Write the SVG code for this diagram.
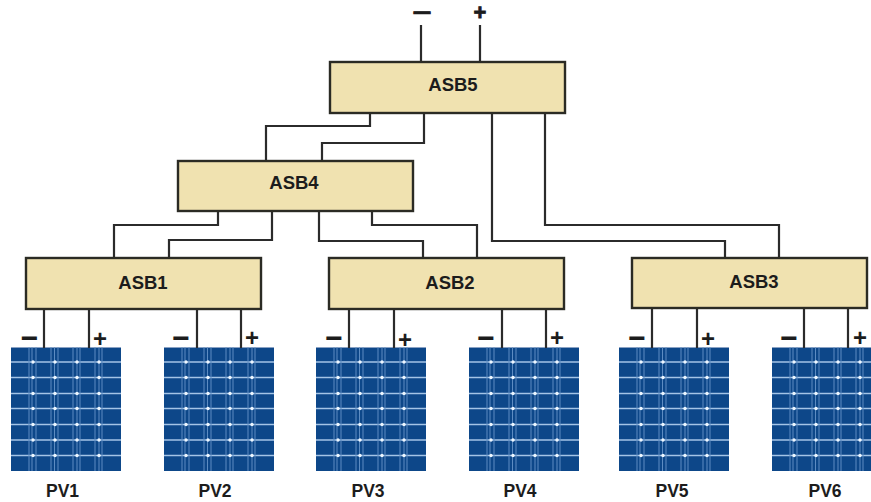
<svg xmlns="http://www.w3.org/2000/svg" width="871" height="502" viewBox="0 0 871 502">
<style>
text{font-family:"Liberation Sans",Arial,sans-serif;font-weight:bold;fill:#1c1c1c;text-anchor:middle}
.box{fill:#f0e2b0;stroke:#2b2b24;stroke-width:2.4}
.lbl{font-size:18.500px}
.pv{font-size:17.500px}
.minus{font-size:30px}
.plus{font-size:24px}
.top{font-size:22px;stroke:#1c1c1c;stroke-width:.8}
.wire{fill:none;stroke:#2b2b2b;stroke-width:2.2}
.gh{stroke:#a4c4e6;stroke-width:1.300;fill:none}
.gv{stroke:#5d8cc2;stroke-width:1;fill:none}
.dot{fill:#eef7ff}
</style>
<defs>
<filter id="soft" x="-2%" y="-2%" width="104%" height="104%"><feGaussianBlur stdDeviation="0.45"/></filter>
<g id="panel" filter="url(#soft)">
<rect width="110" height="123.500" fill="#0e4689"/>
<path class="gh" d="M0 14.500H110M0 30H110M0 46H110M0 61H110M0 77H110M0 92.500H110M0 108H110"/>
<path class="gv" d="M18 0V123.500M21 0V123.500M25 0V123.500M40 0V123.500M43.500 0V123.500M47 0V123.500M62 0V123.500M66 0V123.500M69 0V123.500M84 0V123.500M88 0V123.500M91 0V123.500"/>
<g class="dot">
<circle cx="22" cy="14.500" r="1.700"/><circle cx="44" cy="14.500" r="1.700"/><circle cx="66" cy="14.500" r="1.700"/><circle cx="88" cy="14.500" r="1.700"/>
<circle cx="22" cy="30" r="1.700"/><circle cx="44" cy="30" r="1.700"/><circle cx="66" cy="30" r="1.700"/><circle cx="88" cy="30" r="1.700"/>
<circle cx="22" cy="46" r="1.700"/><circle cx="44" cy="46" r="1.700"/><circle cx="66" cy="46" r="1.700"/><circle cx="88" cy="46" r="1.700"/>
<circle cx="22" cy="61" r="1.700"/><circle cx="44" cy="61" r="1.700"/><circle cx="66" cy="61" r="1.700"/><circle cx="88" cy="61" r="1.700"/>
<circle cx="22" cy="77" r="1.700"/><circle cx="44" cy="77" r="1.700"/><circle cx="66" cy="77" r="1.700"/><circle cx="88" cy="77" r="1.700"/>
<circle cx="22" cy="92.500" r="1.700"/><circle cx="44" cy="92.500" r="1.700"/><circle cx="66" cy="92.500" r="1.700"/><circle cx="88" cy="92.500" r="1.700"/>
<circle cx="22" cy="108" r="1.700"/><circle cx="44" cy="108" r="1.700"/><circle cx="66" cy="108" r="1.700"/><circle cx="88" cy="108" r="1.700"/>
</g>
</g>
</defs>
<rect width="871" height="502" fill="#fff"/>
<g id="panels">
<use href="#panel" x="11" y="347.500"/>
<use href="#panel" x="164" y="347.500"/>
<use href="#panel" x="316" y="347.500"/>
<use href="#panel" x="469" y="347.500"/>
<use href="#panel" x="619" y="347.500"/>
<use href="#panel" x="772" y="347.500"/>
</g>
<g id="connectors" class="wire">
<path d="M421 25V62M480 25V62"/>
<path d="M370 113V126H266V161"/>
<path d="M424 113V143H322V161"/>
<path d="M492 113V241H725V258"/>
<path d="M545 113V225H779V258"/>
<path d="M218 211V225H114V258"/>
<path d="M272 211V240H169V258"/>
<path d="M319 211V241H423V258"/>
<path d="M372 211V225H477V258"/>
<path d="M44 309V348M89 309V348M197 309V348M241 309V348M349 309V348M394 309V348M502 309V348M546 309V348M652 309V348M697 309V348M804 309V348M848 309V348"/>
</g>
<g id="output-terminals">
<text class="top" x="422" y="20" textLength="19" lengthAdjust="spacingAndGlyphs">−</text>
<text class="top" x="480" y="20">+</text>
</g>
<g id="ASB5"><rect class="box" x="330" y="62" width="235" height="51"/><text class="lbl" x="453" y="91">ASB5</text></g>
<g id="ASB4"><rect class="box" x="178" y="161" width="235" height="50"/><text class="lbl" x="294" y="189">ASB4</text></g>
<g id="ASB1"><rect class="box" x="26" y="258" width="235" height="51"/><text class="lbl" x="143" y="289">ASB1</text></g>
<g id="ASB2"><rect class="box" x="329" y="258" width="235" height="51"/><text class="lbl" x="450" y="289">ASB2</text></g>
<g id="ASB3"><rect class="box" x="632" y="258" width="235" height="50"/><text class="lbl" x="754" y="288">ASB3</text></g>
<g id="PV1"><text class="minus" x="29.500" y="348">−</text><text class="plus" x="100" y="347">+</text><text class="pv" x="62.500" y="497">PV1</text></g>
<g id="PV2"><text class="minus" x="181" y="348">−</text><text class="plus" x="252" y="346">+</text><text class="pv" x="215" y="497">PV2</text></g>
<g id="PV3"><text class="minus" x="334" y="348">−</text><text class="plus" x="405" y="348">+</text><text class="pv" x="368" y="497">PV3</text></g>
<g id="PV4"><text class="minus" x="486" y="348">−</text><text class="plus" x="557" y="346">+</text><text class="pv" x="520" y="497">PV4</text></g>
<g id="PV5"><text class="minus" x="637" y="348">−</text><text class="plus" x="708" y="347">+</text><text class="pv" x="672" y="497">PV5</text></g>
<g id="PV6"><text class="minus" x="789" y="348">−</text><text class="plus" x="860" y="346">+</text><text class="pv" x="825" y="497">PV6</text></g>
</svg>
